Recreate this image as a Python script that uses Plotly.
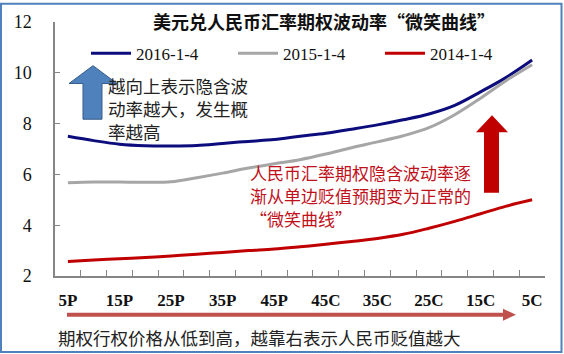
import plotly.graph_objects as go

categories = ["5P", "10P", "15P", "20P", "25P", "30P", "35P", "40P", "45P", "50",
              "45C", "40C", "35C", "30C", "25C", "20C", "15C", "10C", "5C"]
tick_labels = ["5P", "", "15P", "", "25P", "", "35P", "", "45P", "",
               "45C", "", "35C", "", "25C", "", "15C", "", "5C"]
s2016 = [7.50, 7.33, 7.19, 7.13, 7.12, 7.14, 7.22, 7.30, 7.37, 7.50,
         7.62, 7.78, 7.95, 8.15, 8.38, 8.72, 9.25, 9.82, 10.50]
s2015 = [5.67, 5.70, 5.70, 5.69, 5.71, 5.87, 6.05, 6.25, 6.42, 6.58,
         6.80, 7.05, 7.28, 7.52, 7.84, 8.35, 9.00, 9.70, 10.32]
s2014 = [2.57, 2.63, 2.68, 2.73, 2.79, 2.86, 2.93, 3.00, 3.06, 3.15,
         3.25, 3.36, 3.48, 3.64, 3.88, 4.15, 4.45, 4.75, 5.00]
series_names = ["2016-1-4", "2015-1-4", "2014-1-4"]
series_colors = ["#0C0C7C", "#A6A6A6", "#C00000"]
red_note_lines = ["人民币汇率期权隐含波动率逐", "渐从单边贬值预期变为正常的", "“微笑曲线”"]

W, H = 564, 354
L, R, T, B = 55, 19, 20, 78
PW, PH = W - L - R, H - T - B


def px(x):
    return (x - L) / PW


def py(y):
    return (H - B - y) / PH


def poly(points):
    return "M " + " L ".join(f"{px(a):.5f},{py(b):.5f}" for a, b in points) + " Z"


CJK = "Noto Sans CJK SC"
SERIF = "Liberation Serif"

fig = go.Figure()
for name, vals, col in zip(series_names, [s2016, s2015, s2014], series_colors):
    fig.add_trace(go.Scatter(x=categories, y=vals, name=name, mode="lines",
                             line=dict(color=col, width=3, shape="spline", smoothing=1.0)))

shapes = [
    # blue arrow
    dict(type="path", xref="paper", yref="paper",
         path=poly([(93, 64), (117, 82), (102, 82), (102, 118), (83, 118), (83, 82), (69, 82)]),
         fillcolor="#4F81BD", line=dict(color="#385D8A", width=1)),
    # red arrow
    dict(type="path", xref="paper", yref="paper",
         path=poly([(492, 114), (508, 131), (499, 131), (499, 192), (484, 192), (484, 131), (476, 131)]),
         fillcolor="#C00000", line=dict(width=0)),
    # bottom arrow line
    dict(type="line", xref="paper", yref="paper", x0=px(67), y0=py(315), x1=px(504), y1=py(315),
         line=dict(color="#C0504D", width=4)),
    dict(type="path", xref="paper", yref="paper",
         path=poly([(503, 309), (516, 315), (503, 321)]),
         fillcolor="#C0504D", line=dict(width=0)),
    # border
    dict(type="rect", xref="paper", yref="paper", x0=px(1), y0=py(352.5), x1=px(561.5), y1=py(1.5),
         line=dict(color="#4F81BD", width=2), fillcolor="rgba(0,0,0,0)"),
]

annotations = [
    dict(text="<b>美元兑人民币汇率期权波动率“微笑曲线”</b>", xref="paper", yref="paper",
         x=px(324), y=py(19), xanchor="center", yanchor="middle", showarrow=False,
         font=dict(family=CJK, size=18, color="#111111")),
    dict(text="越向上表示隐含波<br>动率越大，发生概<br>率越高", xref="paper", yref="paper",
         x=px(106), y=py(69), xanchor="left", yanchor="top", align="left", showarrow=False,
         font=dict(family=CJK, size=17.5, color="#222222")),
    dict(text="期权行权价格从低到高，越靠右表示人民币贬值越大", xref="paper", yref="paper",
         x=px(56), y=py(338), xanchor="left", yanchor="middle", showarrow=False,
         font=dict(family=CJK, size=17.5, color="#222222")),
]
for i, line_text in enumerate(red_note_lines):
    annotations.append(dict(text=line_text, xref="paper", yref="paper",
                            x=px(248), y=py(172 + 23.2 * i), xanchor="left", yanchor="middle",
                            showarrow=False, font=dict(family=CJK, size=17, color="#C0101A")))

fig.update_layout(
    width=W, height=H,
    margin=dict(l=L, r=R, t=T, b=B),
    paper_bgcolor="white", plot_bgcolor="white",
    showlegend=True,
    legend=dict(orientation="h", x=px(86), y=py(52), xanchor="left", yanchor="middle",
                font=dict(family=SERIF, size=17, color="#111111"),
                bgcolor="rgba(0,0,0,0)", entrywidth=92, entrywidthmode="pixels",
                itemwidth=40),
    shapes=shapes,
    annotations=annotations,
)
fig.update_xaxes(type="category", tickmode="array", tickvals=categories, ticktext=tick_labels,
                 tickson="boundaries", ticks="inside", ticklen=6, tickcolor="#868686",
                 showline=True, linecolor="#868686", linewidth=1.5, showgrid=False,
                 tickangle=0,
                 tickfont=dict(family=SERIF, size=17, color="#111111", weight="bold"),
                 ticklabelstandoff=8, range=[-0.5, 18.5])
fig.update_yaxes(range=[2, 12], tickvals=[2, 4, 6, 8, 10, 12], ticks="inside", ticklen=5,
                 tickcolor="#868686", showline=True, linecolor="#868686", linewidth=1.5,
                 showgrid=False, zeroline=False,
                 tickfont=dict(family=SERIF, size=18, color="#111111"),
                 ticklabelstandoff=18)

fig.write_html("out.html")
